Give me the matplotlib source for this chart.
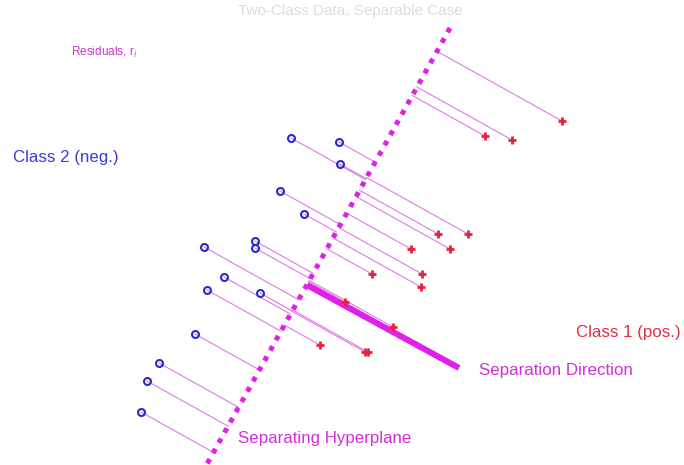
import numpy as np
import matplotlib
matplotlib.use("Agg")
import matplotlib.pyplot as plt

plt.rcParams['font.family'] = ['Liberation Sans', 'DejaVu Sans']

# class 2 (neg.) points, drawn as circles
neg_x = [291, 339, 340, 280, 304, 204, 255, 255, 224, 207, 260, 195, 159, 147, 141]
neg_y = [138, 142, 164, 191, 214, 247, 241, 248, 277, 290, 293, 334, 363, 381, 412]

# class 1 (pos.) points, drawn as plus signs
pos_x = [562, 485, 512, 438, 468, 450, 411, 422, 372, 421, 320, 365, 368, 393, 345]
pos_y = [121, 136, 140, 234, 234, 249, 249, 274, 274, 287, 345, 352, 352, 327, 302]

# separating hyperplane end points and separation direction segment
plane_x = [450, 207]
plane_y = [28, 464]
sep_x = [307, 459]
sep_y = [285, 368]

fig = plt.figure(figsize=(6.84, 4.65), dpi=100)
ax = fig.add_axes([0, 0, 1, 1])
ax.set_xlim(0, 684)
ax.set_ylim(465, 0)
ax.axis('off')

# residuals: each point joined to its projection on the hyperplane
p0 = np.array([plane_x[0], plane_y[0]], dtype=float)
d = np.array([plane_x[1] - plane_x[0], plane_y[1] - plane_y[0]], dtype=float)
d = d / np.linalg.norm(d)

def residuals(xs, ys):
    for x, y in zip(xs, ys):
        p = np.array([x, y], dtype=float)
        q = p0 + np.dot(p - p0, d) * d
        ax.plot([x, q[0]], [y, q[1]], color='#e07ae6', lw=0.8, zorder=1)

residuals(neg_x, neg_y)
residuals(pos_x, pos_y)

ax.plot(plane_x, plane_y, color='#e020e6', lw=3.6, linestyle=(0, (1, 1.35)), zorder=2)
ax.plot(sep_x, sep_y, color='#e020e6', lw=4.4, solid_capstyle='butt', zorder=2)

ax.plot(neg_x, neg_y, 'o', ms=5, mfc='none', mec='#2a2ac8', mew=1.5, zorder=3)
ax.plot(pos_x, pos_y, '+', ms=6, mec='#e8203c', mew=2, zorder=3)

ax.text(350, 11, 'Two-Class Data, Separable Case', color='#dcdcdc', fontsize=11,
        ha='center', va='center')
ax.text(71, 52, 'Residuals, r$_i$', color='#d030d8', fontsize=8.5, va='center')
ax.text(13, 157, 'Class 2 (neg.)', color='#3a3ae0', fontsize=12.2, va='center')
ax.text(681, 332, 'Class 1 (pos.)', color='#e03040', fontsize=12.2, va='center', ha='right')
ax.text(479, 370, 'Separation Direction', color='#d030d8', fontsize=12.2, va='center')
ax.text(238, 438, 'Separating Hyperplane', color='#d030d8', fontsize=12.2, va='center')

fig.savefig('out.png', dpi=100)
